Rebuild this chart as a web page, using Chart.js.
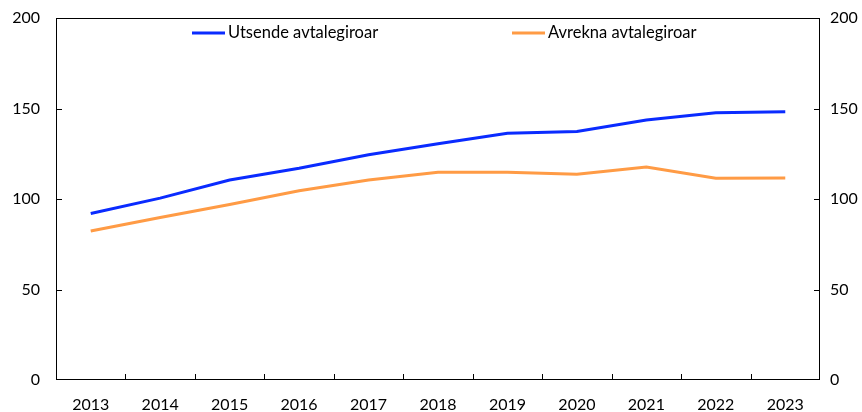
<!DOCTYPE html>
<html>
<head>
<meta charset="utf-8">
<script src="https://cdn.jsdelivr.net/npm/chart.js@4"></script>
<style>
  html, body { margin: 0; padding: 0; background: #fff; }
  #wrap { width: 862px; height: 412px; }
</style>
</head>
<body>
<div id="wrap"><canvas id="c"></canvas></div>
<script>
// Avtalegiro, tal per år
const years = ["2013", "2014", "2015", "2016", "2017", "2018", "2019", "2020", "2021", "2022", "2023"]
const utsende = [92, 100.5, 110.5, 117, 124.5, 130.5, 136.3, 137.3, 143.6, 147.6, 148.2]
const avrekna = [82.3, 89.8, 97, 104.6, 110.5, 114.8, 114.8, 113.7, 117.7, 111.5, 111.6]
const yTicks = [0, 50, 100, 150, 200]

const FONT = "Lato, 'Open Sans', sans-serif"
const BLUE = "#0a2bff"
const ORANGE = "#ff9b45"

// box, inward tick marks and the in-plot legend
const frame = {
  id: "frame",
  afterDraw(chart) {
    const { ctx, chartArea: a, scales } = chart
    ctx.save()
    ctx.strokeStyle = "#000"
    ctx.lineWidth = 1
    ctx.strokeRect(a.left + 0.5, a.top + 0.5, a.right - a.left - 1, a.bottom - a.top - 1)

    ctx.beginPath()
    yTicks.slice(1, -1).forEach(v => {
      const y = Math.round(scales.y.getPixelForValue(v)) + 0.5
      ctx.moveTo(a.left, y); ctx.lineTo(a.left + 6, y)
      ctx.moveTo(a.right, y); ctx.lineTo(a.right - 6, y)
    })
    for (let i = 1; i < years.length; i++) {
      const x = Math.round((scales.x.getPixelForValue(i - 1) + scales.x.getPixelForValue(i)) / 2) + 0.5
      ctx.moveTo(x, a.bottom); ctx.lineTo(x, a.bottom - 6)
    }
    ctx.stroke()

    ctx.font = "16.5px " + FONT
    ctx.textBaseline = "middle"
    ctx.fillStyle = "#000"
    const items = [
      { x: 192, label: chart.data.datasets[0].label, color: BLUE },
      { x: 512, label: chart.data.datasets[1].label, color: ORANGE },
    ]
    items.forEach(it => {
      ctx.strokeStyle = it.color
      ctx.lineWidth = 3
      ctx.beginPath()
      ctx.moveTo(it.x, 33); ctx.lineTo(it.x + 33, 33)
      ctx.stroke()
      ctx.fillText(it.label, it.x + 36, 33)
    })
    ctx.restore()
  },
}

const noPad = s => { s.paddingTop = 0; s.paddingBottom = 0; s.paddingLeft = 0; s.paddingRight = 0 }

new Chart(document.getElementById("c"), {
  type: "line",
  data: {
    labels: years,
    datasets: [
      { label: "Utsende avtalegiroar", data: utsende, borderColor: BLUE, yAxisID: "y" },
      { label: "Avrekna avtalegiroar", data: avrekna, borderColor: ORANGE, yAxisID: "y" },
    ],
  },
  options: {
    responsive: true,
    maintainAspectRatio: false,
    animation: false,
    layout: { padding: { top: 18, left: 0, right: 0, bottom: 0 } },
    elements: {
      line: { borderWidth: 3, tension: 0, borderCapStyle: "butt" },
      point: { radius: 0 },
    },
    plugins: {
      legend: { display: false },
      tooltip: { enabled: false },
    },
    scales: {
      x: {
        offset: true,
        grid: { display: false, drawTicks: false },
        border: { display: false },
        ticks: { color: "#000", font: { family: FONT, size: 16 }, padding: 15, maxRotation: 0 },
        afterFit: s => { s.height = 32; noPad(s) },
      },
      y: {
        position: "left",
        min: 0, max: 200,
        grid: { display: false, drawTicks: false },
        border: { display: false },
        ticks: { stepSize: 50, color: "#000", font: { family: FONT, size: 16 }, padding: 16 },
        afterFit: s => { s.width = 56; noPad(s) },
      },
      y2: {
        position: "right",
        min: 0, max: 200,
        grid: { display: false, drawTicks: false },
        border: { display: false },
        ticks: { stepSize: 50, color: "#000", font: { family: FONT, size: 16 }, padding: 10 },
        afterFit: s => { s.width = 42; noPad(s) },
      },
    },
  },
  plugins: [frame],
})
</script>
</body>
</html>
